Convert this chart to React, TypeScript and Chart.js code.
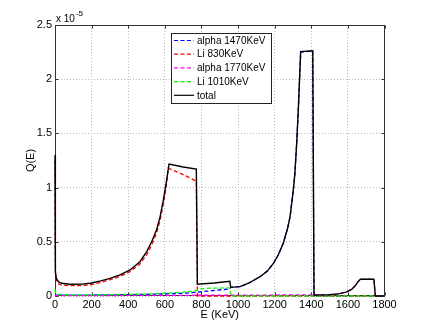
import React, { useEffect, useRef } from "react";
import { Chart, registerables } from "chart.js";
Chart.register(...registerables);

// ---- Data (Q in units of 1e-5) ----
const totalE = [0, 1, 3, 8, 20, 36, 80, 150, 200, 250, 300, 355, 410, 464, 501, 528, 555, 574, 592, 601, 610, 623, 700, 772, 778, 870, 955, 960, 1011, 1060, 1120, 1160, 1193, 1220, 1247, 1270, 1284, 1302, 1310, 1320, 1330, 1342, 1408, 1415, 1500, 1550, 1590, 1620, 1640, 1655, 1668, 1742, 1750, 1800];
const totalQ = [1.30, 0.6, 0.22, 0.16, 0.13, 0.117, 0.108, 0.11, 0.12, 0.14, 0.163, 0.194, 0.24, 0.316, 0.41, 0.50, 0.61, 0.73, 0.886, 0.98, 1.07, 1.218, 1.19, 1.17, 0.108, 0.12, 0.135, 0.08, 0.086, 0.12, 0.178, 0.23, 0.30, 0.38, 0.486, 0.62, 0.73, 0.98, 1.12, 1.40, 1.75, 2.254, 2.263, 0.01, 0.013, 0.02, 0.035, 0.06, 0.095, 0.13, 0.155, 0.155, 0, 0];

const li830E = [0, 1, 3, 8, 20, 36, 80, 150, 200, 250, 300, 355, 410, 464, 501, 528, 555, 574, 592, 601, 610, 618, 700, 772, 778, 1800];
const li830Q = [1.25, 0.55, 0.2, 0.14, 0.11, 0.1, 0.095, 0.097, 0.105, 0.125, 0.15, 0.18, 0.225, 0.295, 0.38, 0.47, 0.58, 0.70, 0.85, 0.94, 1.04, 1.18, 1.12, 1.06, 0, 0];

const li1010E = [0, 5, 30, 100, 300, 500, 600, 700, 760, 790, 850, 955, 962, 1800];
const li1010Q = [0.06, 0.02, 0.012, 0.01, 0.012, 0.018, 0.025, 0.035, 0.045, 0.065, 0.072, 0.075, 0, 0];

const alpha1470E = [0, 100, 300, 500, 600, 700, 780, 860, 955, 960, 1011, 1060, 1120, 1160, 1193, 1220, 1247, 1270, 1284, 1302, 1310, 1320, 1330, 1342, 1408, 1415, 1800];
const alpha1470Q = [0.008, 0.008, 0.01, 0.015, 0.02, 0.025, 0.035, 0.05, 0.065, 0.08, 0.086, 0.12, 0.178, 0.23, 0.30, 0.38, 0.486, 0.62, 0.73, 0.98, 1.12, 1.40, 1.75, 2.25, 2.26, 0, 0];

const alpha1770E = [0, 1415, 1500, 1550, 1590, 1620, 1640, 1655, 1668, 1742, 1750, 1800];
const alpha1770Q = [0.003, 0.01, 0.013, 0.02, 0.035, 0.06, 0.095, 0.13, 0.155, 0.155, 0, 0];

const xTicks = [0, 200, 400, 600, 800, 1000, 1200, 1400, 1600, 1800];
const yTicks = [0, 0.5, 1, 1.5, 2, 2.5];

const legendLabels = ["alpha 1470KeV", "Li 830KeV", "alpha 1770KeV", "Li 1010KeV", "total"];
const legendColors = ["#0000ff", "#ff0000", "#ff00ff", "#00ff00", "#000000"];

const FONT = "'Liberation Sans', Arial, Helvetica, sans-serif";
const DASH = [4, 2.5];

const toPts = (xs: number[], ys: number[]) => xs.map((x, i) => ({ x, y: ys[i] }));

const boxPlugin = {
  id: "box",
  beforeDatasetsDraw(chart: any) {
    const { ctx, chartArea: a, scales } = chart;
    ctx.save();
    ctx.strokeStyle = "#333";
    ctx.lineWidth = 1;
    ctx.setLineDash([]);
    const L = Math.round(a.left) + 0.5, R = Math.round(a.right) - 0.5;
    const T = Math.round(a.top) + 0.5, B = Math.round(a.bottom) - 0.5;
    ctx.strokeRect(L, T, R - L, B - T);
    ctx.beginPath();
    xTicks.forEach((v) => {
      const px = Math.round(scales.x.getPixelForValue(v)) + 0.5;
      ctx.moveTo(px, B); ctx.lineTo(px, B - 3);
      ctx.moveTo(px, T); ctx.lineTo(px, T + 3);
    });
    yTicks.forEach((v) => {
      const py = Math.round(scales.y.getPixelForValue(v)) + 0.5;
      ctx.moveTo(L, py); ctx.lineTo(L + 3, py);
      ctx.moveTo(R, py); ctx.lineTo(R - 3, py);
    });
    ctx.stroke();
    ctx.restore();
  },
  afterDraw(chart: any) {
    const { ctx, chartArea: a } = chart;
    ctx.save();
    ctx.fillStyle = "#000";
    ctx.textBaseline = "alphabetic";
    ctx.textAlign = "left";
    ctx.font = `10px ${FONT}`;
    ctx.fillText("x 10", a.left + 1, a.top - 3);
    const w = ctx.measureText("x 10").width;
    ctx.font = `8px ${FONT}`;
    ctx.fillText("-5", a.left + 1 + w + 1, a.top - 9);
    // legend
    const bx = a.left + 116, by = a.top + 8, bw = 100, bh = 70;
    ctx.fillStyle = "#fff";
    ctx.fillRect(bx, by, bw, bh);
    ctx.strokeStyle = "#222";
    ctx.lineWidth = 1;
    ctx.strokeRect(Math.round(bx) + 0.5, Math.round(by) + 0.5, bw, bh);
    ctx.font = `10px ${FONT}`;
    ctx.textBaseline = "middle";
    legendLabels.forEach((lab, i) => {
      const yy = by + 7.5 + i * 13.7;
      ctx.strokeStyle = legendColors[i];
      ctx.lineWidth = 1.2;
      ctx.setLineDash(i === 4 ? [] : DASH);
      ctx.beginPath();
      ctx.moveTo(bx + 3, yy);
      ctx.lineTo(bx + 23, yy);
      ctx.stroke();
      ctx.fillStyle = "#000";
      ctx.fillText(lab, bx + 26, yy + 0.5);
    });
    ctx.restore();
  },
};

export default function App() {
  const ref = useRef<HTMLCanvasElement | null>(null);
  useEffect(() => {
    if (!ref.current) return;
    const mk = (label: string, xs: number[], ys: number[], color: string, dashed: boolean, order: number) => ({
      label,
      data: toPts(xs, ys),
      borderColor: color,
      backgroundColor: color,
      borderWidth: dashed ? 1.3 : 1.4,
      borderDash: dashed ? DASH : [],
      pointRadius: 0,
      tension: 0,
      fill: false,
      clip: 2,
      order,
    });
    const chart = new Chart(ref.current, {
      type: "line",
      data: {
        datasets: [
          mk("alpha 1470KeV", alpha1470E, alpha1470Q, "#0000ff", true, 4),
          mk("Li 830KeV", li830E, li830Q, "#ff0000", true, 3),
          mk("alpha 1770KeV", alpha1770E, alpha1770Q, "#ff00ff", true, 2),
          mk("Li 1010KeV", li1010E, li1010Q, "#00ff00", true, 1),
          mk("total", totalE, totalQ, "#000000", false, 0),
        ] as any,
      },
      options: {
        animation: false,
        responsive: false,
        devicePixelRatio: 1,
        layout: { padding: { left: 0, top: 25, right: 40.5, bottom: 0 } },
        plugins: { legend: { display: false }, tooltip: { enabled: false } },
        scales: {
          x: {
            type: "linear",
            min: 0,
            max: 1800,
            afterFit: (s: any) => { s.height = 37; },
            afterBuildTicks: (s: any) => { s.ticks = xTicks.map((v) => ({ value: v })); },
            grid: { color: "#b8b8b8", drawTicks: false, lineWidth: 1 },
            border: { display: false, dash: [1, 2] },
            ticks: { color: "#000", font: { family: FONT, size: 11 }, padding: 2, maxRotation: 0, callback: (v: any) => String(v) },
            title: { display: true, text: "E (KeV)", color: "#000", font: { family: FONT, size: 11 }, padding: { top: 0, bottom: 11 } },
          },
          y: {
            type: "linear",
            min: 0,
            max: 2.5,
            afterFit: (s: any) => { s.width = 55; },
            afterBuildTicks: (s: any) => { s.ticks = yTicks.map((v) => ({ value: v })); },
            grid: { color: "#b8b8b8", drawTicks: false, lineWidth: 1 },
            border: { display: false, dash: [1, 2] },
            ticks: { color: "#000", font: { family: FONT, size: 11 }, padding: 3, callback: (v: any) => String(v) },
            title: { display: true, text: "Q(E)", color: "#000", font: { family: FONT, size: 11 }, padding: { top: 24, bottom: 0 } },
          },
        },
      },
      plugins: [boxPlugin],
    });
    return () => chart.destroy();
  }, []);
  return (
    <div style={{ position: "fixed", left: 0, top: 0, width: 425, height: 333, background: "#fff" }}>
      <canvas ref={ref} width={425} height={333} style={{ width: 425, height: 333, display: "block" }} />
    </div>
  );
}
